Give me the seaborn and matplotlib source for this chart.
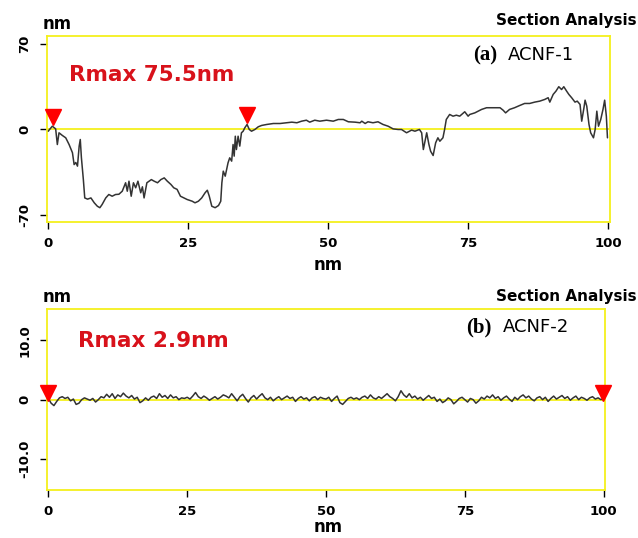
import matplotlib
matplotlib.use("Agg")
import matplotlib.pyplot as plt
import numpy as np
import pandas as pd
import seaborn as sns

# --------------------------------------
# Section profile (a) ACNF-1
# --------------------------------------
x_a = [0.0, 0.1, 0.7, 1.3, 1.6, 1.9, 2.5, 3.1, 3.7, 4.3, 4.6, 4.9, 5.2, 5.5, 5.7, 5.9,
       6.25, 6.5, 7.0, 7.6, 8.2, 8.75, 9.2, 9.6, 10.25, 10.8, 11.4, 12.0, 12.6, 13.2,
       13.8, 14.1, 14.4, 14.8, 15.2, 15.6, 16.0, 16.5, 16.8, 17.1, 17.6, 18.0, 18.4,
       18.9, 19.5, 20.1, 20.7, 21.25, 21.9, 22.4, 23.0, 23.6, 24.2, 24.8, 25.7,
       26.2, 26.8, 27.4, 28.0, 28.4, 28.75, 29.2, 29.8, 30.4, 30.8, 31.0, 31.25, 31.6,
       31.9, 32.1, 32.4, 32.75, 33.0, 33.2, 33.4, 33.6, 33.9, 34.2, 34.5, 34.8, 35.1,
       35.5, 35.9, 36.3, 36.9, 37.5, 38.1, 39.0, 40.2, 41.4, 42.6, 43.5, 44.4, 45.25,
       46.1, 46.7, 47.6, 48.5, 49.7,
       50.9, 51.8, 52.7, 53.6, 54.8, 55.7, 56.0, 56.6, 57.1, 58.0, 58.9, 59.8, 60.7,
       61.6, 62.5, 63.1, 64.0, 64.9, 65.5, 66.3, 66.7, 67.0, 67.6, 68.0, 68.3, 68.75,
       69.2, 69.6, 69.95, 70.5, 70.8, 71.1, 71.7, 72.3, 72.9, 73.5, 74.4, 75.0,
       75.3, 76.2, 77.4, 78.3, 79.5, 80.7, 81.25, 81.7, 82.4, 83.3, 84.2, 85.1, 86.0,
       86.9, 87.8, 88.7, 89.3, 89.6, 90.2, 90.7, 91.2, 91.7, 92.1, 92.6, 93.0, 93.5,
       94.1, 94.5, 95.0, 95.3, 95.7, 95.9, 96.2, 96.6, 96.9, 97.4, 97.7, 98.0, 98.3,
       98.7, 99.1, 99.4, 99.7, 99.9]
y_a = [-1.4, -0.6, 2.7, 0.5, -12.3, -2.7, -4.9, -6.8, -12.3, -19.0, -28.7, -27.0, -30.0,
       -13.7, -8.2, -23.0, -41.0, -56.0, -57.0, -56.0, -60.0, -62.8, -64.0, -61.4,
       -56.0, -53.2, -54.6, -53.2, -53.0, -50.5, -43.6, -50.5, -42.3, -54.6, -43.6,
       -47.7, -42.3, -51.8, -46.9, -56.0, -43.6, -42.3, -41.0, -42.3, -43.6, -41.0,
       -39.6, -42.3, -45.0, -47.7, -49.0, -54.6, -56.0, -57.3, -58.7,
       -60.0, -58.7, -56.0, -51.8, -49.7, -54.6, -62.8, -64.0, -62.2, -58.7, -43.6,
       -34.1, -38.2, -31.4, -27.3, -23.2, -25.9, -12.3, -21.8, -5.5, -16.4, -5.5,
       -13.6, -2.7, -1.4, 1.4, 4.1, 0.0, -1.4, 0.0, 2.2, 3.3, 4.1, 4.9, 4.9, 5.5, 6.0,
       5.5, 6.8, 7.6, 6.0, 7.6, 6.8, 7.6,
       6.8, 8.2, 8.2, 6.3, 6.0, 5.5, 6.8, 4.9, 6.3, 5.5, 6.3, 4.1, 2.7, 0.5, 0.0, 0.0,
       -2.7, -0.5, -1.4, 0.0, -2.7, -16.4, -2.7, -12.3, -17.8, -21.3, -10.9, -6.8,
       -9.6, -6.8, 0.0, 8.2, 12.3, 10.9, 11.7, 10.9, 14.5, 10.9,
       12.3, 13.6, 16.4, 17.8, 17.8, 17.8, 15.8, 13.6, 16.4, 17.8, 19.6, 21.3, 21.3,
       22.4, 23.2, 24.6, 26.0, 22.4, 28.7, 31.4, 35.0, 32.7, 35.0, 31.4, 28.7, 26.0,
       22.4, 23.2, 20.5, 6.8, 17.8, 24.0, 19.1, 4.1, -2.7, -6.8, 0.0, 15.0, 2.7, 8.2,
       16.4, 24.0, 10.9, -6.8]

# --------------------------------------
# Section profile (b) ACNF-2, 0.5 nm steps
# --------------------------------------
y_b = [0.2, -0.6, -1.0, -0.3, 0.3, 0.5, 0.2, 0.4, -0.2, 0.1, -0.8, -0.6, 0.0, 0.3, 0.1,
       -0.1, 0.2, -0.4, 0.0, 0.5, 0.3, 0.9, 0.4, 1.0, 0.2, 0.8, 0.5, 1.1, 0.6, 0.3, 0.7,
       0.1, 0.4, -0.5, -0.2, 0.3, -0.1, 0.4, 0.6, 0.2, 1.0, 0.4, 0.7, 0.2, 0.8, 0.3, 0.5,
       0.0, 0.3, 0.2, 0.4,
       0.1, 0.6, 1.2, 0.5, 0.2, 0.6, 0.3, -0.1, 0.2, 0.5, 0.1, 0.4, 0.8, 0.6, 0.3, 1.0,
       0.4, -0.2, 0.5, 0.9, 0.2, -0.4, 0.3, 0.7, 0.1, 0.6, 1.0, 0.3, 0.0, 0.4, -0.2, 0.2,
       0.5, 0.0, 0.3, 0.6, 0.2, 0.4, -0.3, 0.2, 0.5, 0.1, 0.3, -0.2, 0.3, 0.5, 0.0, 0.4,
       0.2, 0.1,
       0.4, -0.3, 0.2, 0.6, -0.5, -0.8, -0.3, 0.2, 0.4, 0.1, 0.3, 0.0, 0.4, 0.6, 0.2, 0.8,
       0.3, 0.1, 0.5, 0.2, 0.6, 1.0, 0.5, 0.2, -0.2, 0.5, 1.5, 0.8, 0.4, 1.0, 0.3, 0.6,
       0.1, 0.4, -0.1, 0.3, 0.7, 0.2, 0.4, -0.3, 0.1, -0.5, -0.2, 0.3, 0.0, -0.7, -0.3,
       0.2, 0.4, 0.0,
       -0.4, 0.2, 0.0, -0.6, -0.2, 0.4, 0.1, 0.6, 0.3, 0.8, 0.2, 0.5, -0.1, 0.3, 0.6, 0.1,
       -0.3, 0.4, 0.0, 0.5, 0.8, 0.3, 0.6, 0.1, -0.2, 0.3, 0.5, 0.0, 0.4, -0.3, 0.2, 0.6,
       0.1, 0.4, 0.7, 0.2, 0.5, -0.1, 0.3, 0.6, 0.0, 0.4, 0.2, -0.1, 0.3, 0.5, 0.1, 0.3,
       0.0, 0.2]
x_b = np.linspace(0, 100, len(y_b))

# cursor markers (x, y of the point the triangle sits on)
cursors_a = [(0.8, 2.7), (35.5, 4.1)]
cursors_b = [(0.0, 0.2), (99.9, 0.2)]

xticks = [0, 25, 50, 75, 100]
yticks_a = [-70, 0, 70]
ylabels_a = ["-70", "0", "70"]
yticks_b = [-10, 0, 10]
ylabels_b = ["-10.0", "0", "10.0"]

RED = "#d8121b"
YEL = "#f4f01c"
W, H = 638, 538

sns.set_style("white")
plt.rcParams['font.family'] = ['DejaVu Sans']
plt.rcParams['text.color'] = 'black'
plt.rcParams['xtick.color'] = 'black'
plt.rcParams['ytick.color'] = 'black'

fig = plt.figure(figsize=(W / 100, H / 100), dpi=100)
ax_a = fig.add_axes([46.7 / W, 1 - 222 / H, 563 / W, 186 / H])
ax_b = fig.add_axes([46.7 / W, 1 - 490 / H, 558.6 / W, 180.7 / H])


def style_panel(ax, ylim, yticks, ylabels):
    ax.set_xlim(-0.3, 100.3)
    ax.set_ylim(*ylim)
    ax.axhline(0, color=YEL, lw=1.3, zorder=1)
    for s in ax.spines.values():
        s.set_color(YEL)
        s.set_linewidth(1.3)
    ax.set_xticks(xticks)
    ax.set_xticklabels([str(t) for t in xticks])
    ax.set_yticks(yticks)
    ax.set_yticklabels(ylabels, rotation=90, va="center")
    ax.tick_params(axis="both", direction="out", length=5, width=1, color="black",
                   labelcolor="black", bottom=True, left=True, pad=6)
    for lab in ax.get_xticklabels() + ax.get_yticklabels():
        lab.set_weight("bold")
        lab.set_fontsize(9.5)
    ax.set_xlabel("")
    ax.set_ylabel("")


df_a = pd.DataFrame({"x": x_a, "y": y_a})
df_b = pd.DataFrame({"x": x_b, "y": y_b})

sns.lineplot(data=df_a, x="x", y="y", ax=ax_a, color="#333333", lw=1.1, zorder=3)
sns.lineplot(data=df_b, x="x", y="y", ax=ax_b, color="#333333", lw=1.1, zorder=3)

style_panel(ax_a, (-75.7, 76.5), yticks_a, ylabels_a)
style_panel(ax_b, (-15.2, 15.2), yticks_b, ylabels_b)

for cx, cy in cursors_a:
    ax_a.plot(cx, cy + 7.5, marker="v", ms=11, color="#ff0000", mec="#ff0000",
              zorder=5, clip_on=False)
for cx, cy in cursors_b:
    ax_b.plot(cx, cy + 1.0, marker="v", ms=11, color="#ff0000", mec="#ff0000",
              zorder=5, clip_on=False)

# panel texts, placed in figure pixels
def ftext(px, py, s, **kw):
    fig.text(px / W, 1 - py / H, s, va="center", **kw)


ftext(69, 75, "Rmax 75.5nm", color=RED, fontsize=15.5, fontweight="bold")
ftext(78, 341, "Rmax 2.9nm", color=RED, fontsize=15.5, fontweight="bold")

ftext(473, 55, "(a)", fontsize=15, fontweight="bold", family="Liberation Serif")
ftext(508, 55, "ACNF-1", fontsize=13)
ftext(466, 327, "(b)", fontsize=15, fontweight="bold", family="Liberation Serif")
ftext(503, 327, "ACNF-2", fontsize=13)

for py in (24, 297):
    ftext(43, py, "nm", fontsize=12, fontweight="bold")
for py in (21, 296):
    ftext(637, py, "Section Analysis", fontsize=11, fontweight="bold", ha="right")
for py in (265, 527):
    ftext(328, py, "nm", fontsize=12, fontweight="bold", ha="center")

fig.savefig("out.png", dpi=100)
